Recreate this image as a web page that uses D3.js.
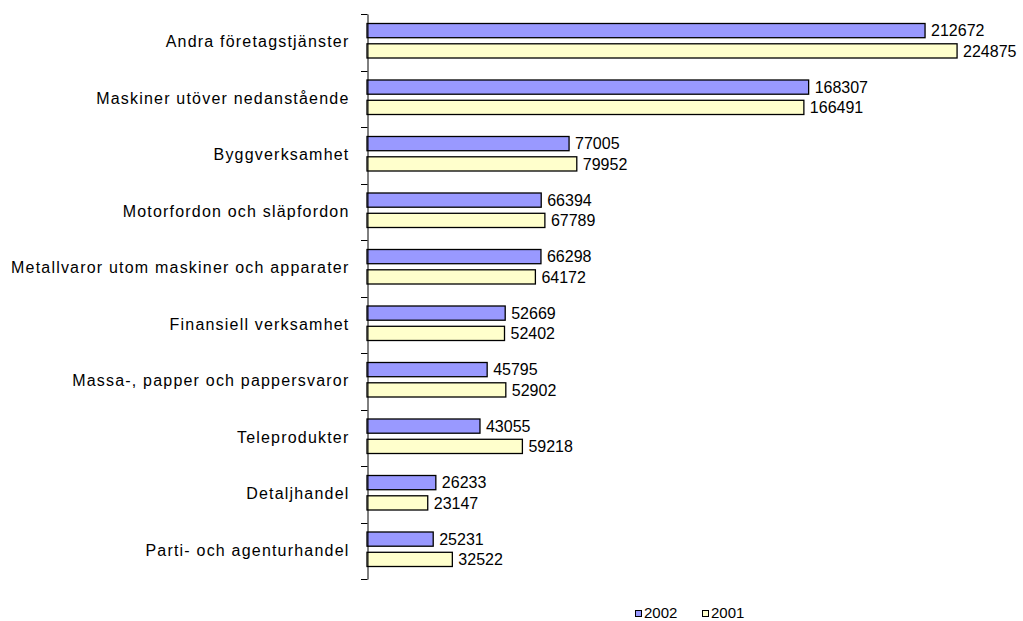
<!DOCTYPE html>
<html>
<head>
<meta charset="utf-8">
<script src="https://cdn.jsdelivr.net/npm/d3@7"></script>
<style>
body { margin: 0; background: #fff; }
svg { display: block; font-family: "Liberation Sans", Arial, sans-serif; }
</style>
</head>
<body>
<script>
// categories top to bottom
const categories = ["Andra företagstjänster", "Maskiner utöver nedanstående", "Byggverksamhet",
  "Motorfordon och släpfordon", "Metallvaror utom maskiner och apparater", "Finansiell verksamhet",
  "Massa-, papper och pappersvaror", "Teleprodukter", "Detaljhandel", "Parti- och agenturhandel"];
const series = ["2002", "2001"];
const values2002 = [212672, 168307, 77005, 66394, 66298, 52669, 45795, 43055, 26233, 25231];
const values2001 = [224875, 166491, 79952, 67789, 64172, 52402, 52902, 59218, 23147, 32522];
const colors = ["#9999FF", "#FFFFCC"];

var width = 1023, height = 621;
var svg = d3.select("body").append("svg")
    .attr("width", width)
    .attr("height", height);

var x = d3.scaleLinear().domain([0, 250000]).range([367, 1023]);
var y = d3.scaleBand().domain(categories).range([14, 579]);
var ySub = d3.scaleBand().domain(series).range([9.5, 44]).paddingInner(0.3);

var rows = categories.map(function(c, i) {
  return {cat: c, vals: [values2002[i], values2001[i]]};
});

var groups = svg.selectAll("g.cat")
    .data(rows)
    .enter()
    .append("g")
    .attr("class", "cat")
    .attr("transform", function(d) { return "translate(0," + y(d.cat) + ")"; });

groups.selectAll("rect")
    .data(function(d) { return d.vals.map(function(v, j) { return {s: series[j], v: v, j: j}; }); })
    .enter()
    .append("rect")
    .attr("x", x(0))
    .attr("y", function(d) { return ySub(d.s); })
    .attr("width", function(d) { return x(d.v) - x(0); })
    .attr("height", ySub.bandwidth())
    .attr("fill", function(d) { return colors[d.j]; })
    .attr("stroke", "#000")
    .attr("stroke-width", 1.3);

groups.selectAll("text.val")
    .data(function(d) { return d.vals.map(function(v, j) { return {s: series[j], v: v}; }); })
    .enter()
    .append("text")
    .attr("class", "val")
    .attr("x", function(d) { return x(d.v) + 6; })
    .attr("y", function(d) { return ySub(d.s) + ySub.bandwidth() / 2; })
    .attr("dy", "0.36em")
    .attr("font-size", 16)
    .attr("fill", "#000")
    .text(function(d) { return d.v; });

// category axis
var axis = d3.axisLeft(y).tickSizeInner(0).tickSizeOuter(0).tickPadding(18);
var gAxis = svg.append("g")
    .attr("transform", "translate(367.5,0)")
    .call(axis);
gAxis.select(".domain").attr("stroke", "#000");
gAxis.selectAll("text").attr("font-size", 16).attr("fill", "#000")
    .attr("letter-spacing", "1.2px")
    .attr("font-family", "Liberation Sans, Arial, sans-serif");

// tick marks at band boundaries
var bounds = categories.map(function(c) { return y(c); }).concat([y.range()[1]]);
svg.selectAll("line.tick")
    .data(bounds)
    .enter()
    .append("line")
    .attr("x1", 361)
    .attr("x2", 367.5)
    .attr("y1", function(d) { return Math.round(d) + 0.5; })
    .attr("y2", function(d) { return Math.round(d) + 0.5; })
    .attr("stroke", "#000");

// legend
var legend = svg.append("g").attr("transform", "translate(635.5,610.5)");
var items = legend.selectAll("g")
    .data(series)
    .enter()
    .append("g")
    .attr("transform", function(d, i) { return "translate(" + (i * 67) + ",0)"; });
items.append("rect")
    .attr("x", 0).attr("y", 0)
    .attr("width", 6).attr("height", 6)
    .attr("fill", function(d, i) { return colors[i]; })
    .attr("stroke", "#000");
items.append("text")
    .attr("x", 8.5)
    .attr("y", 7.5)
    .attr("font-size", 15)
    .text(function(d) { return d; });
</script>
</body>
</html>
